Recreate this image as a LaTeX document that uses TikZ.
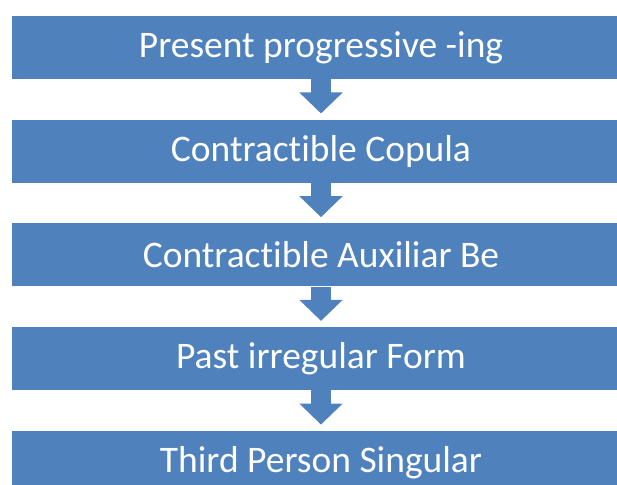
\documentclass[tikz,border=0pt]{standalone}
\usepackage{fontspec}
\setmainfont{Carlito}[Ligatures=CommonOff]
\usepackage{xcolor}
\usetikzlibrary{arrows.meta,positioning}
\definecolor{stepblue}{RGB}{79,129,189}

\tikzset{
  levelbox/.style={rectangle, fill=stepblue, text=white, inner sep=0pt,
    minimum width=618pt, minimum height=63pt,
    font=\fontsize{37.5}{40}\selectfont},
  flowarrow/.style={draw=stepblue, line width=20pt, shorten >=6pt,
    -{Triangle[length=21pt, width=42pt]}}
}

\begin{document}
\begin{tikzpicture}[x=1pt, y=-1pt, node distance=40.3pt]
        \useasboundingbox (0,0) rectangle (617,484);

        % Stages, top to bottom
        \node[levelbox] (ing) at (321,47.5) {Present progressive -ing};
        \node[levelbox, below=of ing] (copula) {Contractible Copula};
        \node[levelbox, below=of copula] (auxbe) {Contractible Auxiliar Be};
        \node[levelbox, below=of auxbe] (past) {Past irregular Form};
        \node[levelbox, below=of past] (third) {Third Person Singular};

        % Arrows between stages
        \draw[flowarrow] (ing.south) -- (copula.north);
        \draw[flowarrow] (copula.south) -- (auxbe.north);
        \draw[flowarrow] (auxbe.south) -- (past.north);
        \draw[flowarrow] (past.south) -- (third.north);
    \end{tikzpicture}
\end{document}
